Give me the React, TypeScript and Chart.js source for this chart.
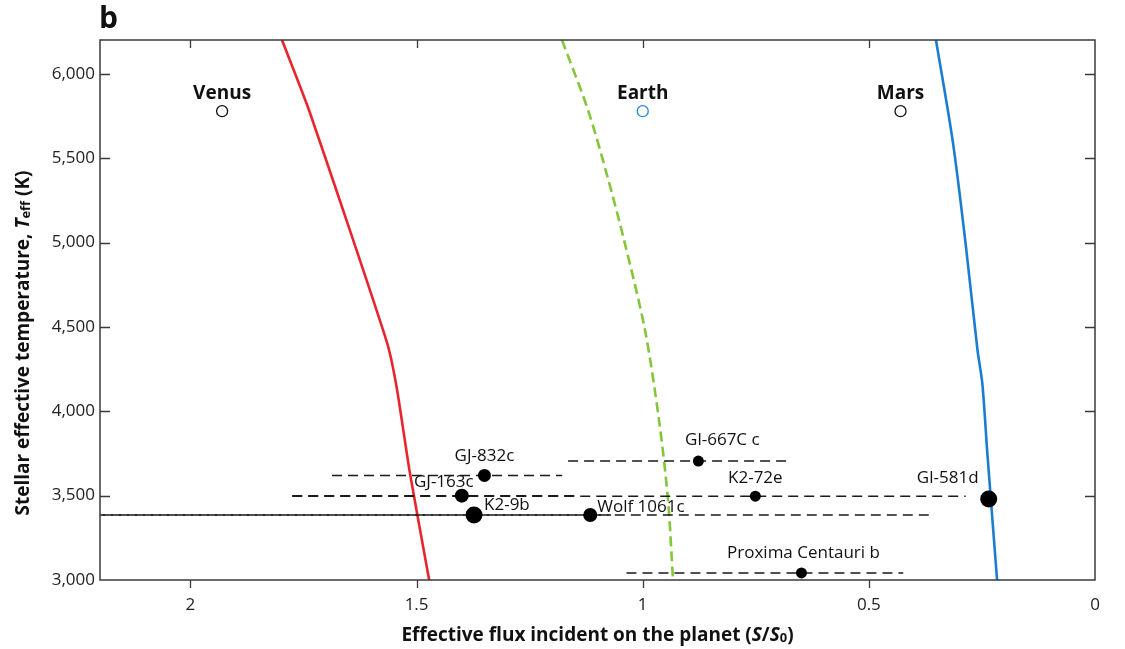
import React, { useEffect, useRef } from 'react';
import { Chart, registerables } from 'chart.js';

Chart.register(...registerables);

const FONT = '"Open Sans", "DejaVu Sans", sans-serif';

// Axis ticks
const xTickValues = [2, 1.5, 1, 0.5, 0];
const xTickLabels = ['2', '1.5', '1', '0.5', '0'];
const yTickValues = [3000, 3500, 4000, 4500, 5000, 5500, 6000];
const yTickLabels = ['3,000', '3,500', '4,000', '4,500', '5,000', '5,500', '6,000'];

// Habitable-zone boundary curves (flux S/S0, Teff K)
const innerEdgeFlux = [1.7976, 1.7388, 1.5664, 1.5442, 1.5148, 1.4722];
const innerEdgeTeff = [6200, 5791, 4416, 4144, 3634, 3000];
const midFlux = [1.1785, 1.121, 1.079, 1.0414, 0.995, 0.964, 0.9441, 0.9331];
const midTeff = [6200, 5785, 5400, 5015, 4481, 3948, 3474, 3000];
const outerEdgeFlux = [0.3516, 0.314, 0.2852, 0.2598, 0.249, 0.2381, 0.2165];
const outerEdgeTeff = [6200, 5590, 4973, 4363, 4161, 3753, 3000];

// Solar-system planets
const solarNames = ['Venus', 'Earth', 'Mars'];
const solarFlux = [1.93, 1.0, 0.43];
const solarTeff = [5778, 5778, 5778];

// Exoplanets
const exoNames = ['GJ-832c', 'GJ-163c', 'K2-9b', 'Wolf 1061c', 'Gl-667C c', 'K2-72e', 'Gl-581d', 'Proxima Centauri b'];
const exoFlux = [1.35, 1.4, 1.373, 1.116, 0.877, 0.751, 0.235, 0.649];
const exoTeff = [3620, 3500, 3385, 3385, 3705, 3497, 3480, 3042];
const exoFluxHigh = [1.687, 1.775, 2.6, 2.3, 1.165, 1.775, null, 1.036];
const exoFluxLow = [1.178, 1.14, 1.07, 0.364, 0.68, 0.286, null, 0.424];

// Styles
const exoRadius = [6.5, 7, 8.5, 7, 5.5, 5.5, 8.5, 5.5];
const exoLabelOffset: [number, number, CanvasTextAlign][] = [
  [0, -19, 'center'],
  [-18, -13, 'center'],
  [10, -10, 'left'],
  [7, -8, 'left'],
  [24, -21, 'center'],
  [0, -18, 'center'],
  [-41, -21, 'center'],
  [2, -20, 'center'],
];
const solarBorder = ['#111', '#2a86d6', '#111'];

function drawRich(ctx: CanvasRenderingContext2D, parts: { t: string; it?: boolean; sub?: boolean }[], size: number) {
  const fontFor = (p: any) => `${p.it ? 'italic ' : ''}bold ${p.sub ? size * 0.68 : size}px ${FONT}`;
  let total = 0;
  const widths = parts.map((p) => {
    ctx.font = fontFor(p);
    const w = ctx.measureText(p.t).width;
    total += w;
    return w;
  });
  let x = -total / 2;
  ctx.textAlign = 'left';
  ctx.textBaseline = 'alphabetic';
  parts.forEach((p, i) => {
    ctx.font = fontFor(p);
    ctx.fillText(p.t, x, p.sub ? size * 0.42 : size * 0.36);
    x += widths[i];
  });
}

const decorPlugin = {
  id: 'decor',
  afterDatasetsDraw(chart: any) {
    const ctx = chart.ctx as CanvasRenderingContext2D;
    const xs = chart.scales.x;
    const ys = chart.scales.y;
    ctx.save();
    ctx.fillStyle = '#111';
    ctx.textBaseline = 'middle';
    ctx.textAlign = 'center';
    ctx.font = `bold 19px ${FONT}`;
    solarNames.forEach((n, i) => {
      ctx.fillText(n, xs.getPixelForValue(solarFlux[i]), ys.getPixelForValue(solarTeff[i]) - 18);
    });
    ctx.font = `17px ${FONT}`;
    exoNames.forEach((n, i) => {
      const [dx, dy, al] = exoLabelOffset[i];
      ctx.textAlign = al;
      ctx.fillText(n, xs.getPixelForValue(exoFlux[i]) + dx, ys.getPixelForValue(exoTeff[i]) + dy);
    });
    ctx.restore();
  },
  afterDraw(chart: any) {
    const ctx = chart.ctx as CanvasRenderingContext2D;
    const { left, right, top, bottom } = chart.chartArea;
    const xs = chart.scales.x;
    const ys = chart.scales.y;
    ctx.save();
    ctx.strokeStyle = '#3a3a3a';
    ctx.lineWidth = 1.5;
    ctx.strokeRect(left, top, right - left, bottom - top);
    ctx.lineWidth = 1.3;
    ctx.beginPath();
    xTickValues.forEach((v) => {
      if (v <= 0 || v >= 2.2) return;
      const px = Math.round(xs.getPixelForValue(v)) + 0.5;
      ctx.moveTo(px, top);
      ctx.lineTo(px, top + 8);
      ctx.moveTo(px, bottom);
      ctx.lineTo(px, bottom + 8);
    });
    yTickValues.forEach((v) => {
      if (v <= 3000) return;
      const py = Math.round(ys.getPixelForValue(v)) + 0.5;
      ctx.moveTo(left, py);
      ctx.lineTo(left + 10, py);
      ctx.moveTo(right, py);
      ctx.lineTo(right - 10, py);
    });
    ctx.stroke();

    ctx.fillStyle = '#111';
    ctx.font = `bold 30px ${FONT}`;
    ctx.textAlign = 'left';
    ctx.textBaseline = 'alphabetic';
    ctx.fillText('b', 99, 28);

    ctx.save();
    ctx.translate((left + right) / 2, 634);
    drawRich(ctx, [
      { t: 'Effective flux incident on the planet (' },
      { t: 'S', it: true },
      { t: '/' },
      { t: 'S', it: true },
      { t: '0', sub: true },
      { t: ')' },
    ], 19);
    ctx.restore();

    ctx.save();
    ctx.translate(22, (top + bottom) / 2 + 33);
    ctx.rotate(-Math.PI / 2);
    drawRich(ctx, [
      { t: 'Stellar effective temperature, ' },
      { t: 'T', it: true },
      { t: 'eff', sub: true },
      { t: ' (K)' },
    ], 19);
    ctx.restore();
    ctx.restore();
  },
};

export default function App() {
  const ref = useRef<HTMLCanvasElement>(null);
  useEffect(() => {
    document.body.style.margin = '0';
    const pts = (xs: (number | null)[], ys: number[]) => xs.map((x, i) => ({ x: x as number, y: ys[i] }));
    const errorSets = exoNames
      .map((n, i) => ({ n, i }))
      .filter(({ i }) => exoFluxHigh[i] !== null)
      .map(({ n, i }) => ({
        label: n + ' range',
        data: [
          { x: exoFluxHigh[i] as number, y: exoTeff[i] },
          { x: exoFluxLow[i] as number, y: exoTeff[i] },
        ],
        showLine: true,
        borderColor: '#1a1a1a',
        borderWidth: 1.5,
        borderDash: [10, 6],
        pointRadius: 0,
      }));
    const chart = new Chart(ref.current as HTMLCanvasElement, {
      type: 'scatter',
      data: {
        datasets: [
          {
            label: 'Exoplanets',
            data: pts(exoFlux, exoTeff),
            pointRadius: exoRadius,
            pointBackgroundColor: '#000',
            pointBorderWidth: 0,
            pointBorderColor: '#000',
          },
          {
            label: 'Solar system',
            data: pts(solarFlux, solarTeff),
            pointRadius: 5.5,
            pointBackgroundColor: '#fff',
            pointBorderColor: solarBorder,
            pointBorderWidth: 1.3,
          },
          ...errorSets,
          {
            label: 'Inner edge',
            data: pts(innerEdgeFlux, innerEdgeTeff),
            showLine: true,
            borderColor: '#e8252d',
            borderWidth: 2.6,
            pointRadius: 0,
            tension: 0.2,
          },
          {
            label: 'Middle',
            data: pts(midFlux, midTeff),
            showLine: true,
            borderColor: '#84c63a',
            borderWidth: 2.6,
            borderDash: [10, 5],
            pointRadius: 0,
            tension: 0.3,
          },
          {
            label: 'Outer edge',
            data: pts(outerEdgeFlux, outerEdgeTeff),
            showLine: true,
            borderColor: '#1b7dcf',
            borderWidth: 2.6,
            pointRadius: 0,
            tension: 0.3,
          },
        ] as any,
      },
      options: {
        animation: false,
        responsive: true,
        maintainAspectRatio: false,
        layout: { padding: { top: 40, right: 30, left: 0, bottom: 0 } },
        plugins: { legend: { display: false }, tooltip: { enabled: false }, title: { display: false } },
        scales: {
          x: {
            type: 'linear',
            reverse: true,
            min: 0,
            max: 2.2,
            afterBuildTicks: (s: any) => {
              s.ticks = xTickValues.map((v) => ({ value: v }));
            },
            afterFit: (s: any) => {
              s.height = 69;
            },
            grid: { display: false, drawTicks: false },
            border: { display: false },
            ticks: {
              padding: 15,
              color: '#222',
              font: { family: FONT, size: 17 },
              maxRotation: 0,
              autoSkip: false,
              callback: (v: any) => xTickLabels[xTickValues.indexOf(Number(v))] ?? '',
            },
          },
          y: {
            type: 'linear',
            min: 3000,
            max: 6200,
            afterBuildTicks: (s: any) => {
              s.ticks = yTickValues.map((v) => ({ value: v }));
            },
            afterFit: (s: any) => {
              s.width = 100;
            },
            grid: { display: false, drawTicks: false },
            border: { display: false },
            ticks: {
              padding: 5,
              color: '#222',
              font: { family: FONT, size: 17 },
              autoSkip: false,
              callback: (v: any) => yTickLabels[yTickValues.indexOf(Number(v))] ?? '',
            },
          },
        },
      },
      plugins: [decorPlugin],
    });
    return () => chart.destroy();
  }, []);
  return (
    <div style={{ width: 1125, height: 649, position: 'relative' }}>
      <canvas ref={ref} />
    </div>
  );
}
